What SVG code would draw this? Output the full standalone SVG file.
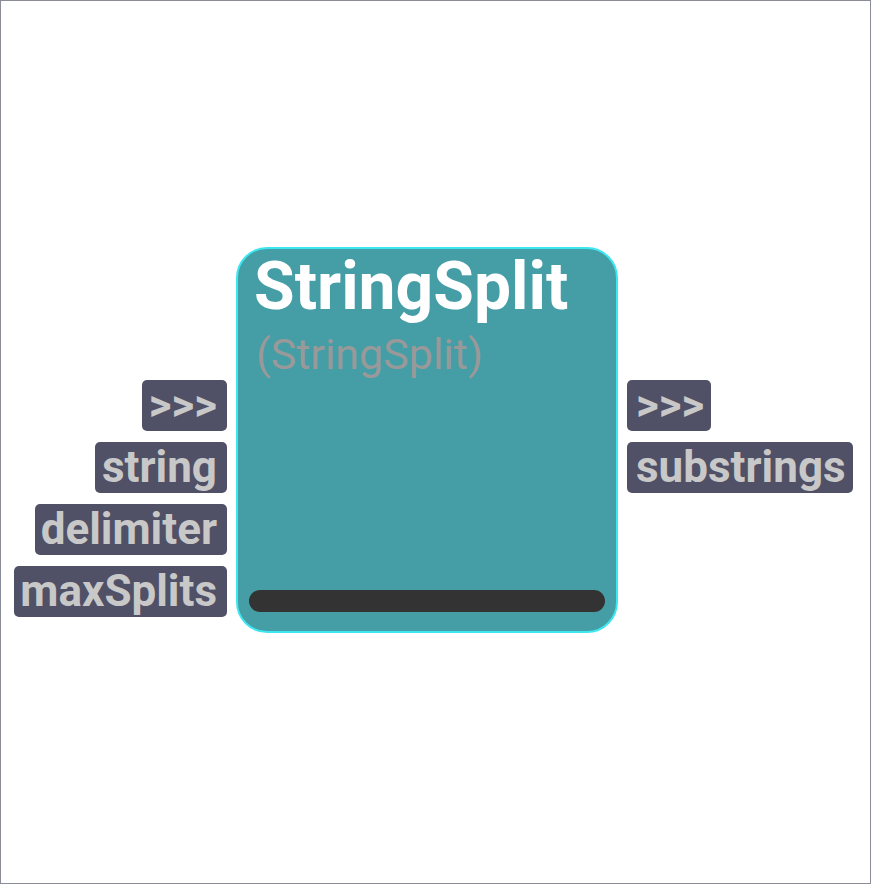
<svg xmlns="http://www.w3.org/2000/svg" width="871" height="884" viewBox="0 0 871 884">
<style>
.port rect{fill:#505066;}
.port text{font-family:Roboto,"Liberation Sans",sans-serif;font-weight:bold;font-size:44px;fill:#c8c8c8;}
.in text{text-anchor:end;}
</style>
<rect x="0.5" y="0.5" width="870" height="883" fill="#ffffff" stroke="#8a8c98" stroke-width="1"/>
<g id="node-StringSplit">
<rect x="237" y="248" width="380" height="384" rx="30" ry="30" fill="#459ea6" stroke="#3ee6ef" stroke-width="2"/>
<text x="254" y="309" font-family="Roboto,'Liberation Sans',sans-serif" font-weight="bold" font-size="66" fill="#ffffff">StringSplit</text>
<text x="256" y="369" font-family="Roboto,'Liberation Sans',sans-serif" font-size="43" fill="#999999">(StringSplit)</text>
<rect x="249" y="590" width="356" height="22" rx="11" ry="11" fill="#333333"/>
</g>
<g id="in-exec" class="port in"><rect x="142" y="380" width="85" height="51" rx="5"/><text x="217" y="420">&gt;&gt;&gt;</text></g>
<g id="in-string" class="port in"><rect x="95" y="442" width="132" height="51" rx="5"/><text x="217" y="482">string</text></g>
<g id="in-delimiter" class="port in"><rect x="35" y="504" width="192" height="51" rx="5"/><text x="217" y="544">delimiter</text></g>
<g id="in-maxSplits" class="port in"><rect x="14" y="566" width="213" height="51" rx="5"/><text x="217" y="606">maxSplits</text></g>
<g id="out-exec" class="port out"><rect x="627" y="380" width="84" height="51" rx="5"/><text x="636" y="420">&gt;&gt;&gt;</text></g>
<g id="out-substrings" class="port out"><rect x="627" y="442" width="226" height="51" rx="5"/><text x="636" y="482">substrings</text></g>
<g id="connectors"></g>
</svg>
